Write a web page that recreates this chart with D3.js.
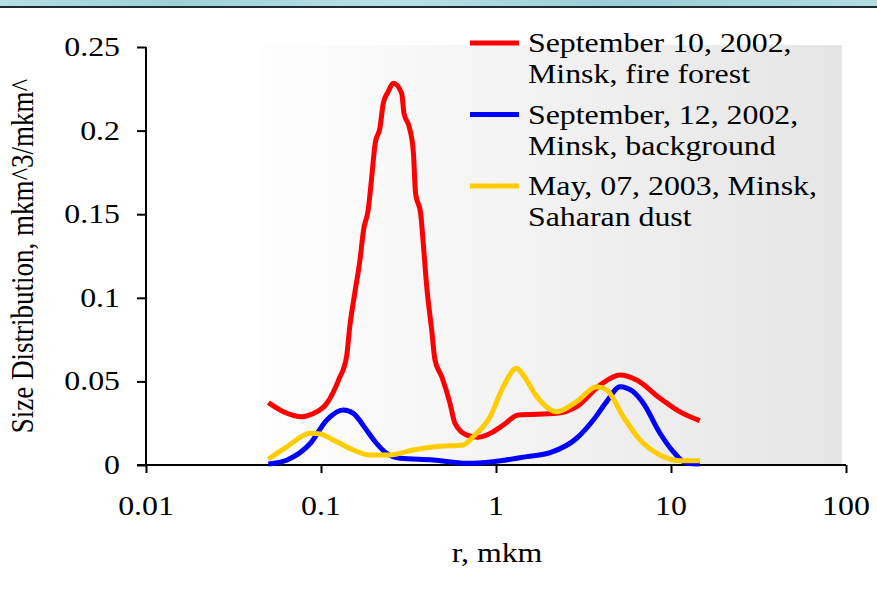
<!DOCTYPE html>
<html>
<head>
<meta charset="utf-8">
<script src="https://cdn.jsdelivr.net/npm/d3@7"></script>
<style>
  html, body { margin: 0; padding: 0; background: #fff; }
  svg { display: block; }
  text { font-family: "Liberation Serif", "Times New Roman", serif; fill: #000; }
</style>
</head>
<body>
<svg id="chart" width="877" height="591"></svg>
<script>
// Volume size distributions (r in mkm, dV/dlnr in mkm^3/mkm^2)
const fireForest = [
  [0.050, 0.0373], [0.061, 0.0319], [0.078, 0.0289], [0.089, 0.0305], [0.108, 0.0369],
  [0.126, 0.0508], [0.140, 0.0648], [0.146, 0.0827], [0.156, 0.1029], [0.167, 0.1226],
  [0.175, 0.1405], [0.186, 0.1525], [0.195, 0.1724], [0.204, 0.1924], [0.217, 0.2014],
  [0.227, 0.2163], [0.242, 0.2233], [0.259, 0.2283], [0.289, 0.2223], [0.298, 0.2103],
  [0.319, 0.2023], [0.337, 0.1874], [0.347, 0.1625], [0.371, 0.1505], [0.384, 0.1326],
  [0.402, 0.1066], [0.429, 0.0807], [0.448, 0.0628], [0.490, 0.0528], [0.546, 0.0369],
  [0.583, 0.0249], [0.681, 0.0179], [0.793, 0.0166], [0.965, 0.0199], [1.10, 0.0239],
  [1.34, 0.0299], [2.22, 0.0309], [2.89, 0.0349], [3.93, 0.0478], [5.11, 0.0538],
  [6.37, 0.0508], [8.65, 0.0399], [11.2, 0.0319], [14.6, 0.0265]
];
const background = [
  [0.050, 0.0006], [0.064, 0.0030], [0.087, 0.0130], [0.108, 0.0269], [0.134, 0.0329],
  [0.153, 0.0309], [0.182, 0.0209], [0.204, 0.0139], [0.237, 0.0070], [0.283, 0.0040],
  [0.438, 0.0030], [0.681, 0.0010], [0.965, 0.0020], [1.50, 0.0050], [2.04, 0.0074],
  [2.89, 0.0160], [3.60, 0.0269], [4.29, 0.0379], [5.11, 0.0468], [6.09, 0.0438],
  [6.95, 0.0369], [8.65, 0.0190], [10.3, 0.0080], [12.3, 0.0010], [14.6, 0.0006]
];
const saharanDust = [
  [0.050, 0.0034], [0.064, 0.0110], [0.087, 0.0190], [0.099, 0.0185], [0.123, 0.0139],
  [0.153, 0.0090], [0.190, 0.0060], [0.248, 0.0060], [0.337, 0.0090], [0.458, 0.0110],
  [0.650, 0.0120], [0.741, 0.0170], [0.925, 0.0289], [1.10, 0.0468], [1.31, 0.0578],
  [1.43, 0.0538], [1.71, 0.0409], [2.22, 0.0319], [2.89, 0.0379], [3.76, 0.0468],
  [4.29, 0.0449], [5.33, 0.0289], [6.65, 0.0150], [8.65, 0.0060], [11.2, 0.0026],
  [14.6, 0.0026]
];

const seriesNames = [
  ["September 10, 2002,", "Minsk, fire forest"],
  ["September, 12, 2002,", "Minsk, background"],
  ["May, 07, 2003, Minsk,", "Saharan dust"]
];
const seriesColors = ["#ff0000", "#0000ff", "#ffcc00"];
const xTicks = [0.01, 0.1, 1, 10, 100];
const xTickLabels = ["0.01", "0.1", "1", "10", "100"];
const yTicks = [0, 0.05, 0.1, 0.15, 0.2, 0.25];
const yTickLabels = ["0", "0.05", "0.1", "0.15", "0.2", "0.25"];
const xTitle = "r, mkm";
const yTitle = "Size Distribution, mkm^3/mkm^";

const svg = d3.select("#chart");
const stretch = 1.18; // wide serif lettering

// decorative header strip
const defs = svg.append("defs");
const hdr = defs.append("linearGradient").attr("id", "hdr")
  .attr("x1", 0).attr("x2", 1).attr("y1", 0).attr("y2", 0);
[["0", "#b4dfe4"], ["0.2", "#9fd0d8"], ["0.45", "#b8e1e6"], ["0.7", "#9ccdd6"], ["1", "#b1dce2"]]
  .forEach(([o, c]) => hdr.append("stop").attr("offset", o).attr("stop-color", c));
svg.append("rect").attr("x", 0).attr("y", 0).attr("width", 877).attr("height", 6).attr("fill", "url(#hdr)");
svg.append("rect").attr("x", 0).attr("y", 6).attr("width", 877).attr("height", 2).attr("fill", "#1d2b30");

const x = d3.scaleLog().domain([0.01, 100]).range([146, 846]);
const y = d3.scaleLinear().domain([0, 0.25]).range([465, 47]);

// shaded plot panel
const bg = defs.append("linearGradient").attr("id", "panel")
  .attr("x1", 0).attr("x2", 1).attr("y1", 0).attr("y2", 0);
bg.append("stop").attr("offset", "0").attr("stop-color", "#fefefe");
bg.append("stop").attr("offset", "0.4").attr("stop-color", "#f4f4f4");
bg.append("stop").attr("offset", "1").attr("stop-color", "#e5e5e5");
const panelLeft = x(0.0454), panelRight = x(95);
svg.append("rect")
  .attr("x", panelLeft).attr("y", 45)
  .attr("width", panelRight - panelLeft).attr("height", y(0) - 45)
  .attr("fill", "url(#panel)");

// axes
const yAxis = svg.append("g").attr("transform", `translate(${x(0.01)},0)`)
  .call(d3.axisLeft(y).tickValues(yTicks).tickSize(9).tickFormat(""));
const xAxis = svg.append("g").attr("transform", `translate(0,${y(0)})`)
  .call(d3.axisBottom(x).tickValues(xTicks).tickSize(8).tickFormat(""));
[yAxis, xAxis].forEach(g => {
  g.select(".domain").attr("stroke", "#000").attr("stroke-width", 2);
  g.selectAll(".tick line").attr("stroke", "#000").attr("stroke-width", 2);
});
yAxis.select(".domain").attr("d", `M0,${y(0.25)}V${y(0)}`);
xAxis.select(".domain").attr("d", `M${x(0.01) - 9},0H${x(100)}`);

function label(px, py, str, anchor, size, rot) {
  svg.append("text")
    .attr("transform", `translate(${px},${py}) scale(${stretch},1)` + (rot ? ` rotate(${rot})` : ""))
    .attr("text-anchor", anchor)
    .style("font-size", size + "px")
    .text(str);
}
yTicks.forEach((v, i) => label(120, y(v) + 9, yTickLabels[i], "end", 27));
xTicks.forEach((v, i) => label(x(v), 515, xTickLabels[i], "middle", 27));
label(497, 562, xTitle, "middle", 27);
label(33, 256, yTitle, "middle", 27, -90);

// distribution curves
const line = d3.line().x(d => x(d[0])).y(d => y(d[1])).curve(d3.curveMonotoneX);
[fireForest, background, saharanDust].forEach((s, i) => {
  svg.append("path").datum(s)
    .attr("d", line)
    .attr("fill", "none")
    .attr("stroke", seriesColors[i])
    .attr("stroke-width", 5)
    .attr("stroke-linejoin", "round");
});

// legend
seriesNames.forEach((lines, i) => {
  const top = 43 + i * 71.5;
  svg.append("line").attr("x1", 470).attr("x2", 519).attr("y1", top).attr("y2", top)
    .attr("stroke", seriesColors[i]).attr("stroke-width", 5);
  lines.forEach((t, j) => label(528, top + 9 + j * 31, t, "start", 27));
});
</script>
</body>
</html>
